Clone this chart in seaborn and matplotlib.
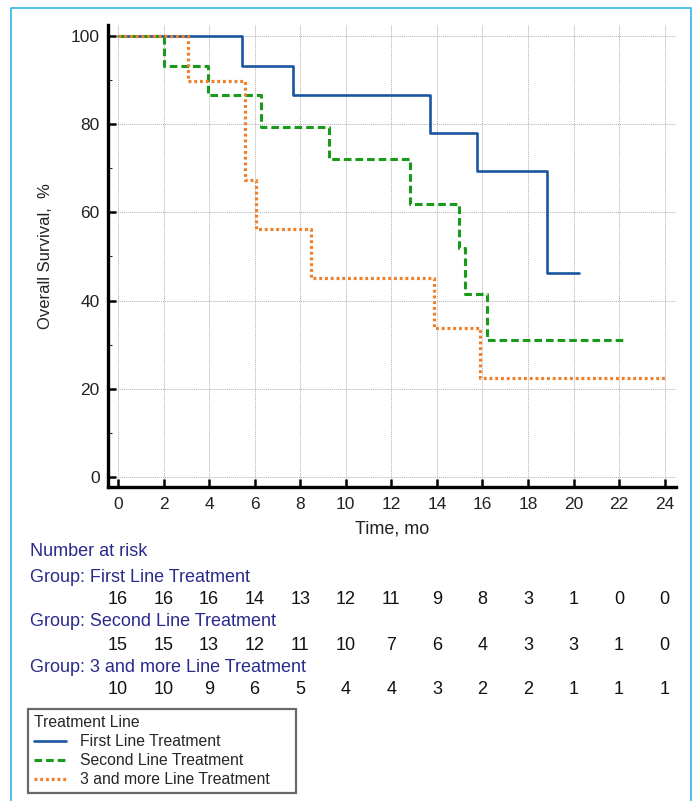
import matplotlib
matplotlib.use("Agg")
import matplotlib.pyplot as plt
import pandas as pd
import seaborn as sns
from matplotlib.lines import Line2D

# Kaplan-Meier step points (time in months, survival in %)
first_t = [0, 5.45, 7.7, 13.7, 15.75, 18.85, 20.25]
first_s = [100, 93.3, 86.7, 78.0, 69.3, 46.2, 46.2]
second_t = [0, 2.0, 3.97, 6.28, 9.28, 12.82, 14.96, 15.22, 16.2, 22.18]
second_s = [100, 93.3, 86.7, 79.4, 72.2, 62.0, 51.9, 41.4, 31.1, 31.1]
third_t = [0, 3.06, 5.58, 6.07, 8.48, 13.89, 15.9, 24.04]
third_s = [100, 89.9, 67.3, 56.2, 45.0, 33.7, 22.5, 22.5]

groups = ["First Line Treatment", "Second Line Treatment", "3 and more Line Treatment"]
colors = ["#1a56a0", "#1a9a1a", "#f07f2a"]

# number at risk table
risk_times = [0, 2, 4, 6, 8, 10, 12, 14, 16, 18, 20, 22, 24]
risk_first = [16, 16, 16, 14, 13, 12, 11, 9, 8, 3, 1, 0, 0]
risk_second = [15, 15, 13, 12, 11, 10, 7, 6, 4, 3, 3, 1, 0]
risk_third = [10, 10, 9, 6, 5, 4, 4, 3, 2, 2, 1, 1, 1]

sns.set_style("white")
plt.rcParams["font.family"] = ["Liberation Sans", "DejaVu Sans"]

fig = plt.figure(figsize=(6.96, 8.01), dpi=100)
ax = fig.add_axes([108 / 696, 1 - 487 / 801, 568 / 696, 462 / 801])

curves = [(first_t, first_s), (second_t, second_s), (third_t, third_s)]
line_styles = [
    dict(linestyle="-", linewidth=1.9),
    dict(linestyle=(0, (2.5, 1.3)), linewidth=2.2),
    dict(linestyle=(0, (0.9, 0.9)), linewidth=2.3),
]
for (t, s), name, c, ls in zip(curves, groups, colors, line_styles):
    df = pd.DataFrame({"time": t, "surv": s})
    sns.lineplot(data=df, x="time", y="surv", drawstyle="steps-post", color=c,
                 estimator=None, sort=False, ax=ax, **ls)

ax.set_xlim(-0.44, 24.5)
ax.set_ylim(-2.3, 102.5)
ax.set_xticks(range(0, 25, 2))
ax.set_yticks(range(0, 101, 20))
ax.set_yticks(range(10, 100, 20), minor=True)
ax.grid(True, which="major", linestyle=(0, (1, 1)), color="#b0b0b0", linewidth=0.7)
for side in ["top", "right"]:
    ax.spines[side].set_visible(False)
for side in ["left", "bottom"]:
    ax.spines[side].set_linewidth(2.4)
    ax.spines[side].set_color("black")
ax.tick_params(axis="both", which="major", direction="in", length=6, width=1.8,
               labelsize=12.5, colors="black", labelcolor="#222222", left=True, bottom=True)
ax.tick_params(axis="y", which="minor", direction="in", length=3, width=0.8, left=True)
ax.tick_params(axis="x", pad=7)
ax.tick_params(axis="y", pad=6)
ax.set_xlabel("Time, mo", fontsize=13, color="#222222", labelpad=6)
ax.set_ylabel("Overall Survival,  %", fontsize=12, color="#222222", labelpad=13)

# number at risk block
navy = "#2a2a8c"
fig.text(30 / 696, 1 - 552 / 801, "Number at risk", color=navy, fontsize=13, va="center")
row_y = [(577, 600), (622, 645), (667, 689)]
for name, risk, (gy, ny) in zip(groups, [risk_first, risk_second, risk_third], row_y):
    fig.text(30 / 696, 1 - gy / 801, "Group: " + name, color=navy, fontsize=13, va="center")
    for t, n in zip(risk_times, risk):
        xf = ax.transData.transform((t, 0))[0] / fig.bbox.width
        fig.text(xf, 1 - ny / 801, str(n), color="#111111", fontsize=13,
                 ha="center", va="center")

# legend
handles = [Line2D([], [], color=c, **ls) for c, ls in zip(colors, line_styles)]
leg = fig.legend(handles, groups, title="Treatment Line", loc="upper left",
                 bbox_to_anchor=(28 / 696, 0, 268 / 696, 1 - 709 / 801), mode="expand",
                 borderaxespad=0, fontsize=11.3, title_fontsize=11.3,
                 frameon=True, fancybox=False, edgecolor="#444444", handlelength=2.0,
                 handletextpad=0.9, labelspacing=0.25, borderpad=0.4, alignment="left")
leg.get_frame().set_linewidth(1.6)

# outer light-blue border (left, top, right)
fig.add_artist(Line2D([11 / 696, 11 / 696, 691 / 696, 691 / 696],
                      [0, 1 - 8 / 801, 1 - 8 / 801, 0],
                      transform=fig.transFigure, color="#45b8e8", linewidth=1.3))

fig.savefig("out.png", dpi=100)
